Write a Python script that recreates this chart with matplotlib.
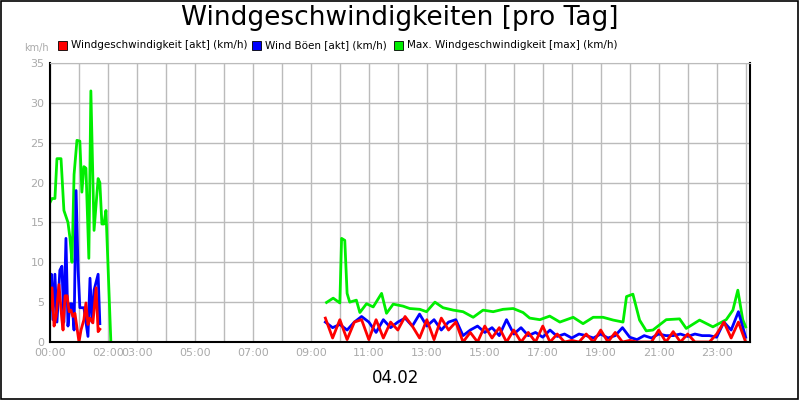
import numpy as np
import matplotlib
matplotlib.use("Agg")
import matplotlib.pyplot as plt
from matplotlib.patches import Rectangle

# left segment (hours)
g1_t = [0.0,0.07,0.17,0.24,0.38,0.48,0.62,0.69,0.76,0.83,0.93,1.03,1.10,1.17,1.24,1.34,1.41,1.52,1.66,1.72,1.79,1.86,1.93,2.10]
g1_v = [17.5,18,18,23,23,16.5,15,13,10,21,25.3,25.2,18.8,22,21.8,10.5,31.5,14,20.5,20,14.8,14.8,16.5,0]
b1_t = [0.0,0.05,0.10,0.17,0.24,0.34,0.41,0.48,0.55,0.62,0.69,0.76,0.83,0.90,0.97,1.03,1.17,1.31,1.38,1.45,1.52,1.66,1.72]
b1_v = [5,8.5,2.8,8.5,2.5,9,9.5,2.5,13,2,4.8,4.8,1.5,19,9,4.3,4.3,0.7,8,2.5,6.5,8.5,2.3]
r1_t = [0.0,0.07,0.14,0.21,0.31,0.41,0.45,0.52,0.59,0.66,0.72,0.79,0.86,0.93,1.00,1.07,1.17,1.24,1.31,1.38,1.48,1.59,1.66,1.72]
r1_v = [4,6.8,2,3.2,7.2,2.8,1.5,5.8,5.8,3.8,4,3.2,3.6,1.8,0,1.5,2.8,4.9,2.2,3,2.4,6.8,1.3,1.6]

# right segment
g2_t = [9.54,9.77,10.0,10.06,10.17,10.25,10.34,10.57,10.69,10.92,11.15,11.44,11.61,11.84,12.18,12.41,12.76,12.99,13.28,13.56,13.91,14.25,14.60,14.94,15.29,15.63,15.98,16.32,16.55,16.90,17.24,17.59,18.05,18.39,18.74,19.08,19.43,19.77,19.89,20.11,20.34,20.57,20.80,21.26,21.72,21.95,22.41,22.87,23.33,23.56,23.73,23.90,24.0]
g2_v = [4.96,5.5,4.9,13.0,12.75,6.1,5.0,5.25,3.7,4.8,4.4,6.1,3.6,4.75,4.5,4.2,4.1,3.8,5.0,4.3,4.0,3.8,3.1,4.0,3.8,4.1,4.2,3.7,3.0,2.8,3.25,2.5,3.1,2.3,3.1,3.1,2.75,2.5,5.7,6.0,2.75,1.4,1.5,2.8,2.9,1.7,2.75,1.9,2.8,4.0,6.5,2.8,1.9]
b2_v = [2.5,1.8,2.2,1.5,2.5,3.2,2.5,1.2,2.8,1.8,2.5,3.0,2.0,3.5,2.0,2.8,1.5,2.5,2.8,0.8,1.5,2.0,1.2,1.8,0.8,2.8,1.0,1.8,0.8,1.2,0.6,1.5,0.7,1.0,0.5,1.0,0.8,0.5,1.0,0.5,0.8,1.8,0.6,0.3,0.8,0.5,1.0,0.8,0.8,1.0,0.7,1.0,0.8,0.8,0.6,2.5,1.5,3.8,0.6]
r2_v = [3.0,0.5,2.8,0.3,2.5,2.8,0.3,2.8,0.5,2.5,1.5,3.2,2.0,0.5,2.8,0.3,3.0,1.5,2.5,0,1.2,0,2.0,0.5,1.8,0,1.5,0,1.2,0,2.0,0,1.0,0,0.2,0,1.0,0,1.5,0,1.2,0,0.2,0,0,0,1.5,0,1.3,0,1.0,0,0,0,1.0,2.5,0.5,2.5,0]
r2_t = 9.5 + 0.25 * np.arange(len(r2_v))
b2_t = 9.5 + 0.25 * np.arange(len(b2_v))

tick_hours = [0,2,3,5,7,9,11,13,15,17,19,21,23]
tick_labels = ["00:00","02:00","03:00","05:00","07:00","09:00","11:00","13:00","15:00","17:00","19:00","21:00","23:00"]

fig = plt.figure(figsize=(8,4), dpi=100)
fig.patches.append(Rectangle((0.001,0.002),0.997,0.996, transform=fig.transFigure, fill=False, edgecolor='black', lw=1.2))
ax = fig.add_axes([0.0625, 0.145, 0.875, 0.6975])

red, blue, green = '#ff0000', '#0000ff', '#00ee00'
ax.plot(g1_t, g1_v, color=green, lw=2)
ax.plot(g2_t, g2_v, color=green, lw=2)
ax.plot(b1_t, b1_v, color=blue, lw=2)
ax.plot(b2_t, b2_v, color=blue, lw=2)
ax.plot(r1_t, r1_v, color=red, lw=2)
ax.plot(r2_t, r2_v, color=red, lw=2)

ax.set_xlim(0, 24.15)
ax.set_ylim(0, 35)
ax.set_yticks(range(0, 36, 5))
ax.set_xticks(tick_hours)
ax.set_xticklabels(tick_labels)
ax.set_xticks(range(0, 25), minor=True)
ax.grid(True, which='both', color='#bbbbbb', lw=1)
ax.set_axisbelow(True)
ax.tick_params(which='both', length=0, colors='#aaaaaa', labelsize=8, pad=4)
for s in ['left','bottom','right']:
    ax.spines[s].set_color('black')
    ax.spines[s].set_linewidth(1.5)
ax.spines['top'].set_color('#bbbbbb')

fig.text(0.5, 0.955, "Windgeschwindigkeiten [pro Tag]", ha='center', va='center', fontsize=19)
fig.text(0.046, 0.88, "km/h", ha='center', va='center', fontsize=7, color='#aaaaaa')
fig.text(0.494, 0.055, "04.02", ha='center', va='center', fontsize=12)

legend = [("Windgeschwindigkeit [akt] (km/h)", red, 0.073),
          ("Wind Böen [akt] (km/h)", blue, 0.315),
          ("Max. Windgeschwindigkeit [max] (km/h)", green, 0.493)]
for txt, c, x in legend:
    fig.patches.append(Rectangle((x, 0.876), 0.011, 0.022, transform=fig.transFigure, facecolor=c, edgecolor='black', lw=0.6))
    fig.text(x + 0.016, 0.887, txt, va='center', fontsize=7.5)

fig.savefig("out.png", dpi=100)
